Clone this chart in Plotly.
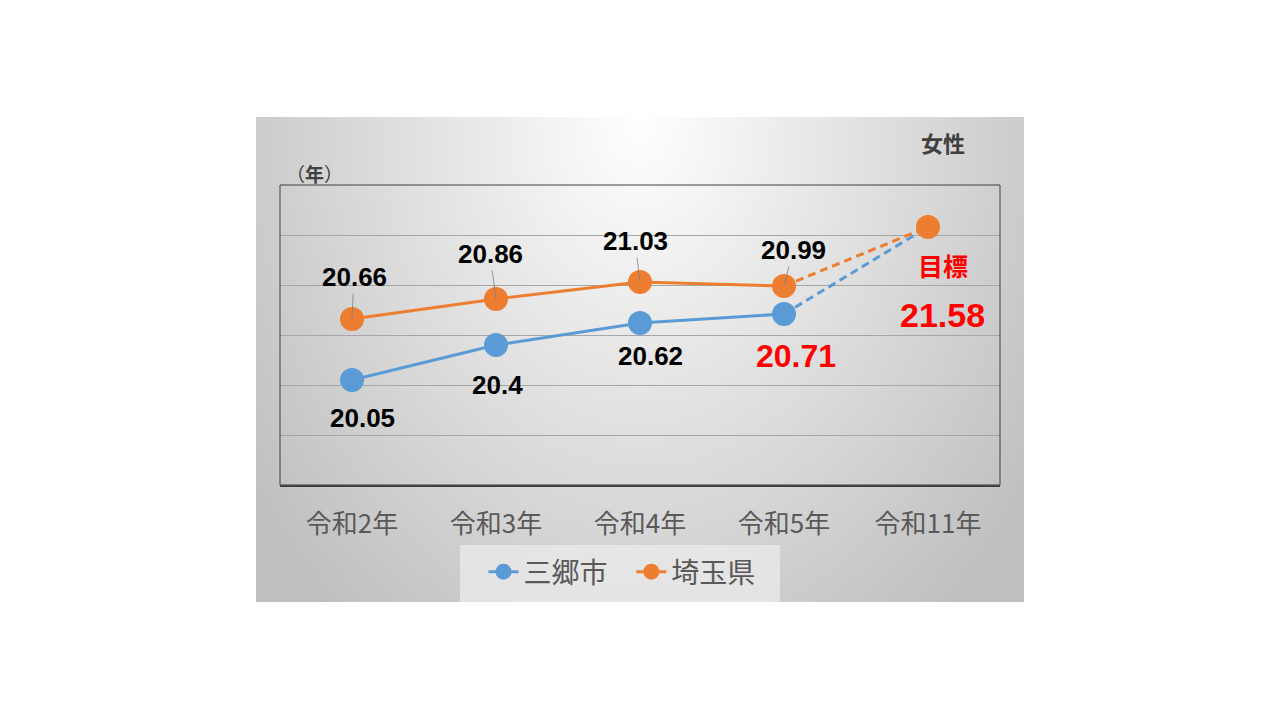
import base64

import plotly.graph_objects as go

# データ（女性・健康寿命）
YEARS = ["令和2年", "令和3年", "令和4年", "令和5年", "令和11年"]
MISATO = [20.05, 20.4, 20.62, 20.71]
SAITAMA = [20.66, 20.86, 21.03, 20.99]
TARGET = 21.58

BLUE = "#5b9bd5"
ORANGE = "#ed7d31"
RED = "#ff0000"
GRAY_TEXT = "#595959"
NUM_FONT = "Liberation Sans, Arial, sans-serif"
JP_FONT = "Noto Sans CJK JP, sans-serif"

# background: radial gradient like the Excel chart area
svg = (
    '<svg xmlns="http://www.w3.org/2000/svg" width="768" height="485">'
    '<defs><radialGradient id="g" gradientUnits="userSpaceOnUse" cx="384" cy="0" r="480" '
    'gradientTransform="translate(384,0) scale(1,1.35) translate(-384,0)">'
    '<stop offset="0" stop-color="#ffffff"/><stop offset="1" stop-color="#bfbfbf"/>'
    '</radialGradient></defs><rect width="768" height="485" fill="url(#g)"/></svg>'
)
bg_src = "data:image/svg+xml;base64," + base64.b64encode(svg.encode()).decode()

fig = go.Figure()

# 三郷市
fig.add_trace(go.Scatter(
    x=YEARS[:4], y=MISATO, name="三郷市   ", mode="lines+markers",
    line=dict(color=BLUE, width=3), marker=dict(size=24, color=BLUE),
))
fig.add_trace(go.Scatter(
    x=YEARS[3:], y=[MISATO[-1], TARGET], mode="lines", showlegend=False,
    line=dict(color=BLUE, width=3, dash="8px,5px"), hoverinfo="skip",
))
# 埼玉県
fig.add_trace(go.Scatter(
    x=YEARS[:4], y=SAITAMA, name="埼玉県", mode="lines+markers",
    line=dict(color=ORANGE, width=3), marker=dict(size=24, color=ORANGE),
))
fig.add_trace(go.Scatter(
    x=YEARS[3:], y=[SAITAMA[-1], TARGET], mode="lines", showlegend=False,
    line=dict(color=ORANGE, width=3, dash="8px,5px"), hoverinfo="skip",
))
fig.add_trace(go.Scatter(
    x=YEARS[4:], y=[TARGET], mode="markers", showlegend=False,
    marker=dict(size=24, color=ORANGE), hoverinfo="skip",
))

# label offsets (px) from each point
saitama_off = [(2, -42), (-6, -45), (-5, -41), (9, -36)]
misato_off = [(10, 38), (1, 40), (10, 33), (12, 42)]

annotations = []
for i, v in enumerate(SAITAMA):
    ax, ay = saitama_off[i]
    annotations.append(dict(
        x=YEARS[i], y=v, text=f"<b>{v:g}</b>", showarrow=True, arrowhead=0,
        arrowwidth=0.8, arrowcolor="#7f7f7f", ax=ax, ay=ay, standoff=0,
        font=dict(family=NUM_FONT, size=26, color="#000000"),
    ))
for i, v in enumerate(MISATO):
    ax, ay = misato_off[i]
    last = i == len(MISATO) - 1
    annotations.append(dict(
        x=YEARS[i], y=v, text=f"<b>{v:g}</b>", showarrow=False, xshift=ax, yshift=-ay,
        font=dict(family=NUM_FONT, size=32 if last else 26,
                  color=RED if last else "#000000"),
    ))
annotations += [
    dict(x=YEARS[4], y=TARGET, text="<b>目標</b>", showarrow=False, xshift=15, yshift=-38,
         font=dict(family=JP_FONT, size=25, color=RED)),
    dict(x=YEARS[4], y=TARGET, text=f"<b>{TARGET:g}</b>", showarrow=False, xshift=14, yshift=-88,
         font=dict(family=NUM_FONT, size=34, color=RED)),
    dict(x=0.0486, y=1.04, xref="paper", yref="paper", text="（<b>年</b>）", showarrow=False,
         xanchor="center", yanchor="middle",
         font=dict(family=JP_FONT, size=19, color="#404040")),
    dict(x=0.921, y=1.143, xref="paper", yref="paper", text="<b>女性</b>", showarrow=False,
         xanchor="center", yanchor="middle",
         font=dict(family=JP_FONT, size=22, color="#404040")),
]

fig.update_layout(
    width=1264, height=704, autosize=False,
    margin=dict(l=272, r=272, t=177, b=227),
    paper_bgcolor="#ffffff", plot_bgcolor="rgba(0,0,0,0)",
    images=[dict(source=bg_src, xref="paper", yref="paper", x=-0.0333, y=1.2267,
                 sizex=1.0667, sizey=1.6167, xanchor="left", yanchor="top",
                 sizing="stretch", layer="below")],
    shapes=[
        dict(type="rect", xref="paper", yref="paper", x0=0.25, x1=0.6944, y0=-0.39, y1=-0.2,
             fillcolor="rgba(235,235,235,0.75)", line=dict(width=0), layer="below"),
        dict(type="rect", xref="paper", yref="paper", x0=0, x1=1, y0=0, y1=1,
             line=dict(color="#404040", width=1)),
    ],
    annotations=annotations,
    showlegend=True,
    legend=dict(orientation="h", x=0.475, xanchor="center", y=-0.29, yanchor="middle",
                bgcolor="rgba(0,0,0,0)", font=dict(family=JP_FONT, size=28, color=GRAY_TEXT),
                itemwidth=30),
    xaxis=dict(type="category", categoryorder="array", categoryarray=YEARS, range=[-0.5, 4.5],
               showgrid=False, showline=True, linecolor="#404040", linewidth=2,
               ticks="outside", ticklen=15, tickcolor="rgba(0,0,0,0)",
               tickfont=dict(family=JP_FONT, size=26, color=GRAY_TEXT), zeroline=False),
    yaxis=dict(range=[19, 22], dtick=0.5, showgrid=True, gridcolor="#a6a6a6", gridwidth=1,
               showticklabels=False, zeroline=False, showline=False),
    hovermode=False,
)

fig.write_html("out.html")
